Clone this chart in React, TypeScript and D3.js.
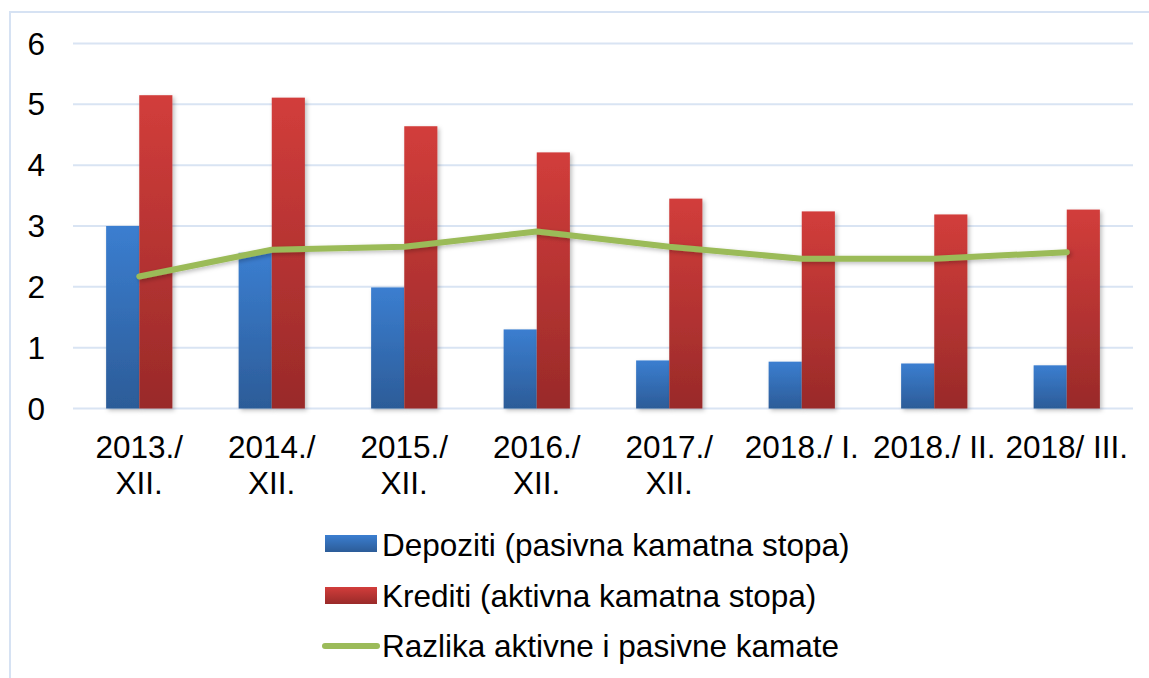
import React from "react";
import * as d3 from "d3";

const categories: string[][] = [
  ["2013./", "XII."],
  ["2014./", "XII."],
  ["2015./", "XII."],
  ["2016./", "XII."],
  ["2017./", "XII."],
  ["2018./ I."],
  ["2018./ II."],
  ["2018/ III."],
];
const depoziti = [3.0, 2.56, 1.99, 1.3, 0.79, 0.77, 0.74, 0.71];
const krediti = [5.15, 5.11, 4.64, 4.21, 3.45, 3.24, 3.19, 3.27];
const razlika = [2.17, 2.61, 2.66, 2.91, 2.66, 2.46, 2.46, 2.57];
const yTicks = [0, 1, 2, 3, 4, 5, 6];
const legendLabels = [
  "Depoziti (pasivna kamatna stopa)",
  "Krediti (aktivna kamatna stopa)",
  "Razlika aktivne i pasivne kamate",
];

const W = 1149;
const H = 678;
const left = 73;
const right = 1133;
const top = 43.5;
const bottom = 408.5;
const FONT = "'Liberation Sans', Arial, sans-serif";
const FS = 31.5;

export default function App() {
  const idx = categories.map((_, i) => String(i));
  const x = d3.scaleBand<string>().domain(idx).range([left, right]).paddingInner(0.5).paddingOuter(0.25);
  const y = d3.scaleLinear().domain([0, 6]).range([bottom, top]);
  const bw = x.bandwidth() / 2;
  const cx = (i: number) => (x(String(i)) as number) + x.bandwidth() / 2;
  const line = d3
    .line<number>()
    .x((_, i) => cx(i))
    .y((d) => y(d));

  return (
    <svg
      width={W}
      height={H}
      style={{ position: "absolute", left: 0, top: 0, background: "#fff" }}
      fontFamily={FONT}
    >
      <defs>
        <linearGradient id="gBlue" x1="0" y1="0" x2="0" y2="1">
          <stop offset="0" stopColor="#3B7ED0" />
          <stop offset="1" stopColor="#2C5C98" />
        </linearGradient>
        <linearGradient id="gRed" x1="0" y1="0" x2="0" y2="1">
          <stop offset="0" stopColor="#D23D3B" />
          <stop offset="1" stopColor="#992A29" />
        </linearGradient>
        <filter id="sh" x="-20%" y="-20%" width="150%" height="150%">
          <feDropShadow dx="2" dy="2" stdDeviation="2" floodColor="#000" floodOpacity="0.25" />
        </filter>
      </defs>
      <rect x={10} y={12} width={W + 20} height={H + 20} fill="none" stroke="#D6E2F3" strokeWidth={2} />
      {yTicks.map((t) => (
        <g key={t}>
          <line x1={left} x2={right} y1={y(t)} y2={y(t)} stroke="#D9E4F3" strokeWidth={2} />
          <text x={45} y={y(t) + 11} textAnchor="end" fontSize={FS} fill="#000">
            {t}
          </text>
        </g>
      ))}
      {depoziti.map((v, i) => (
        <rect
          key={"b" + i}
          x={x(String(i))}
          y={y(v)}
          width={bw}
          height={y(0) - y(v)}
          fill="url(#gBlue)"
          filter="url(#sh)"
        />
      ))}
      {krediti.map((v, i) => (
        <rect
          key={"r" + i}
          x={(x(String(i)) as number) + bw}
          y={y(v)}
          width={bw}
          height={y(0) - y(v)}
          fill="url(#gRed)"
          filter="url(#sh)"
        />
      ))}
      <path
        d={line(razlika) || ""}
        fill="none"
        stroke="#9BBB59"
        strokeWidth={6}
        strokeLinecap="round"
        strokeLinejoin="round"
        filter="url(#sh)"
      />
      {categories.map((lines, i) => (
        <text key={"c" + i} x={cx(i)} textAnchor="middle" fontSize={FS} fill="#000">
          {lines.map((l, j) => (
            <tspan key={j} x={cx(i)} y={458 + j * 36}>
              {l}
            </tspan>
          ))}
        </text>
      ))}
      <g>
        <rect x={325} y={535} width={52} height={17} fill="url(#gBlue)" />
        <text x={382} y={556} fontSize={FS} fill="#000">{legendLabels[0]}</text>
        <rect x={325} y={587} width={52} height={17} fill="url(#gRed)" />
        <text x={382} y={607} fontSize={FS} fill="#000">{legendLabels[1]}</text>
        <line x1={325} x2={377} y1={646} y2={646} stroke="#9BBB59" strokeWidth={6} strokeLinecap="round" />
        <text x={382} y={657} fontSize={FS} fill="#000">{legendLabels[2]}</text>
      </g>
    </svg>
  );
}
